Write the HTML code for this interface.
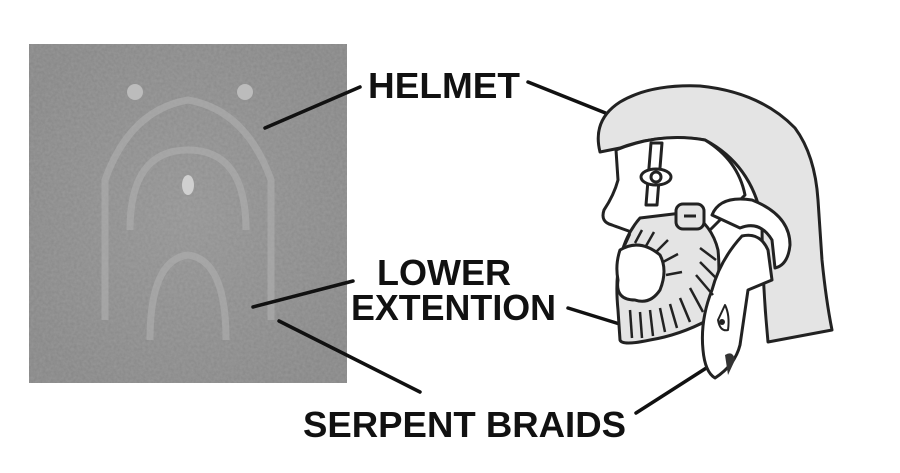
<!DOCTYPE html>
<html><head><style>
html,body{margin:0;padding:0;background:#fff;width:900px;height:473px;overflow:hidden}
svg{display:block}
text{font-family:"Liberation Sans",Arial,sans-serif;font-weight:bold;font-size:36px;fill:#111}
</style></head><body>
<svg width="900" height="473" viewBox="0 0 900 473">
<defs>
<radialGradient id="g1" cx="50%" cy="50%" r="60%">
<stop offset="0" stop-color="#939393"/><stop offset="1" stop-color="#868686"/>
</radialGradient>
<filter id="n" x="0" y="0" width="100%" height="100%" filterUnits="objectBoundingBox"><feTurbulence type="fractalNoise" baseFrequency="0.35" numOctaves="2" seed="3"/><feColorMatrix type="matrix" values="0 0 0 0 0.6  0 0 0 0 0.6  0 0 0 0 0.6  0 0 0 0.5 0"/><feComposite in2="SourceGraphic" operator="in"/></filter>
<clipPath id="c"><rect x="29" y="44" width="318" height="339"/></clipPath>
</defs>
<rect x="29" y="44" width="318" height="339" fill="url(#g1)"/>
<g clip-path="url(#c)">
<rect x="29" y="44" width="318" height="339" filter="url(#n)" opacity="0.5"/>
<g fill="none" stroke="#b0b0b0" stroke-width="7" opacity="0.6">
<path d="M105 320 L105 180 Q130 110 188 100 Q246 110 271 180 L271 320"/>
<path d="M130 230 Q130 150 188 150 Q246 150 246 230"/>
<path d="M150 340 Q150 260 188 255 Q226 260 226 340"/>
</g>
<ellipse cx="188" cy="185" rx="6" ry="10" fill="#d0d0d0"/>
<ellipse cx="135" cy="92" rx="8" ry="8" fill="#bcbcbc"/>
<ellipse cx="245" cy="92" rx="8" ry="8" fill="#bcbcbc"/>
</g>

<g stroke="#111" stroke-width="3.5" stroke-linecap="round">
<line x1="360" y1="87" x2="265" y2="128"/>
<line x1="528" y1="82" x2="623" y2="120"/>
<line x1="353" y1="281" x2="253" y2="307"/>
<line x1="568" y1="308" x2="626" y2="326"/>
<line x1="279" y1="321" x2="420" y2="392"/>
<line x1="636" y1="413" x2="711" y2="365"/>
</g>
<text x="368" y="98" textLength="152" lengthAdjust="spacingAndGlyphs">HELMET</text>
<text x="377" y="285" textLength="134" lengthAdjust="spacingAndGlyphs">LOWER</text>
<text x="351" y="320" textLength="205" lengthAdjust="spacingAndGlyphs">EXTENTION</text>
<text x="303" y="437" textLength="323" lengthAdjust="spacingAndGlyphs">SERPENT BRAIDS</text>

<g stroke="#222" stroke-width="3" stroke-linejoin="round">
<!-- helmet -->
<path fill="#e4e4e4" d="M600 152 Q592 120 620 102 Q650 84 700 86 Q760 92 795 128 Q815 155 818 200 L822 260 Q826 300 832 330 L768 342 Q762 280 762 220 Q752 165 705 140 Q660 133 620 148 Z"/>
<!-- face -->
<path fill="#fff" d="M616 150 Q660 132 705 140 Q738 160 745 195 L700 240 L640 235 Q620 228 612 225 Q600 222 604 210 Q614 195 618 180 Z"/>
<!-- nose band -->
<path fill="#fff" d="M651 143 L662 143 L657 205 L646 205 Z"/>
<ellipse cx="656" cy="177" rx="15" ry="8" fill="#fff"/>
<circle cx="656" cy="177" r="5" fill="#fff"/>
<!-- beard -->
<path fill="#e4e4e4" d="M640 218 L690 212 Q712 225 718 250 Q722 290 708 320 Q680 335 650 340 Q622 346 620 340 L618 310 Q615 280 620 260 Q625 235 640 218 Z"/>
<!-- mouth -->
<path fill="#fff" d="M620 250 Q640 238 660 255 Q668 270 660 290 Q650 305 635 300 Q615 300 618 280 Q615 265 620 250 Z"/>
<!-- ear -->
<rect x="676" y="204" width="28" height="25" rx="7" fill="#e4e4e4"/>
<line x1="684" y1="216" x2="696" y2="216"/>
<!-- braid loop -->
<path fill="#fff" d="M712 215 Q720 195 752 200 Q790 215 790 245 Q788 265 775 268 L772 240 Q760 220 740 228 Z"/>
<!-- serpent -->
<path fill="#fff" d="M742 236 Q760 232 768 250 L772 280 L748 290 L740 345 Q735 365 715 378 Q705 372 703 350 Q700 320 712 290 Q720 260 742 236 Z"/>
<path fill="#fff" d="M725 305 Q730 315 728 330 Q720 332 718 320 Z" stroke-width="2"/>
</g>
<circle cx="722" cy="322" r="3" fill="#222"/>
<path d="M725 355 Q733 350 735 360 L728 375 Z" fill="#333"/>
<g stroke="#222" stroke-width="2.5">
<line x1="630" y1="310" x2="632" y2="338"/><line x1="640" y1="312" x2="642" y2="338"/>
<line x1="650" y1="310" x2="653" y2="336"/><line x1="660" y1="308" x2="665" y2="332"/>
<line x1="670" y1="304" x2="677" y2="328"/><line x1="680" y1="298" x2="690" y2="322"/>
<line x1="690" y1="288" x2="703" y2="312"/><line x1="696" y1="275" x2="713" y2="295"/>
<line x1="700" y1="262" x2="716" y2="278"/><line x1="700" y1="248" x2="716" y2="260"/>
<line x1="625" y1="245" x2="630" y2="234"/><line x1="635" y1="243" x2="642" y2="230"/>
<line x1="646" y1="246" x2="654" y2="232"/><line x1="656" y1="252" x2="668" y2="240"/>
<line x1="663" y1="262" x2="678" y2="254"/><line x1="666" y1="275" x2="682" y2="272"/>
</g>
</svg>
</body></html>
